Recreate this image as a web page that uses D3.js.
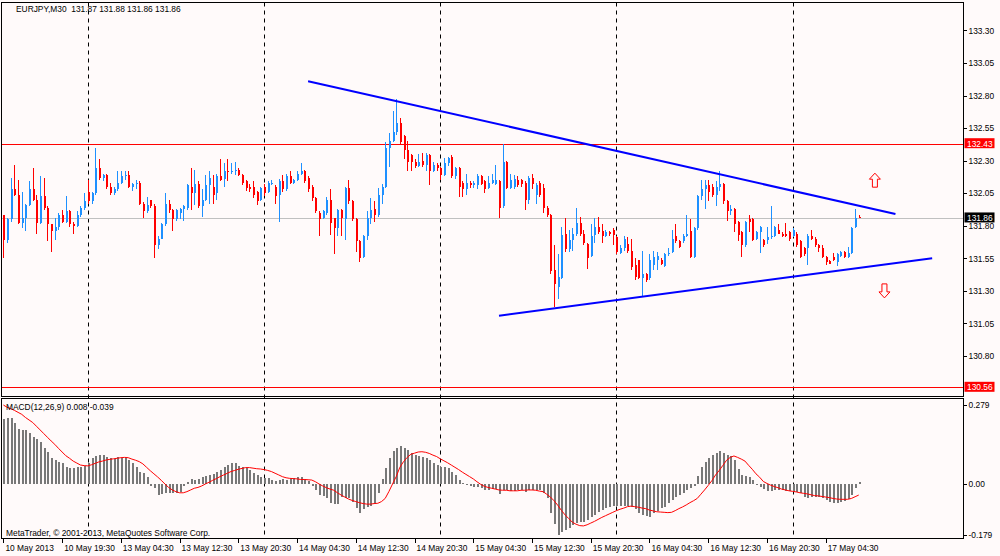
<!DOCTYPE html>
<html><head><meta charset="utf-8">
<script src="https://cdn.jsdelivr.net/npm/d3@7"></script>
<style>
html,body{margin:0;padding:0;background:#fffafa;}
svg{display:block;}
text{font-family:"Liberation Sans",Arial,sans-serif;font-size:8.4px;fill:#000;}
</style></head><body>
<svg id="c" width="1000" height="556"></svg>
<script>
// ---------- DATA ----------
const symbolTitle = "EURJPY,M30  131.87 131.88 131.86 131.86";
const macdTitle = "MACD(12,26,9) 0.008 -0.039";
const copyright = "MetaTrader, \u00A9 2001-2013, MetaQuotes Software Corp.";

const open = [
131.88,131.69,131.85,132.08,132.04,131.82,131.86,131.96,132.08,132.00,
131.82,132.03,131.94,131.81,131.76,131.79,131.88,131.83,131.91,131.81,
131.80,131.88,131.94,132.06,131.99,132.05,132.24,132.17,132.19,132.10,
132.05,132.08,132.13,132.18,132.19,132.10,132.12,132.13,131.97,131.91,
132.00,131.95,131.65,131.70,131.81,131.97,131.92,131.85,131.90,131.93,
131.94,132.10,132.05,132.12,131.95,132.00,132.11,132.10,132.05,132.18,
132.16,132.22,132.21,132.22,132.23,132.19,132.14,132.10,132.10,132.06,
132.00,132.10,132.06,132.12,132.10,132.04,132.14,132.08,132.18,132.13,
132.15,132.20,132.22,132.17,132.10,132.01,131.90,131.86,131.90,132.00,
131.86,131.78,131.92,131.85,132.09,131.99,131.85,131.68,131.56,131.72,
131.86,131.93,131.88,132.04,132.10,132.40,132.45,132.52,132.59,132.49,
132.38,132.34,132.29,132.26,132.30,132.27,132.34,132.22,132.27,132.24,
132.19,132.28,132.33,132.18,132.24,132.13,132.08,132.13,132.11,132.11,
132.18,132.14,132.09,132.13,132.12,132.14,131.95,132.29,132.09,132.10,
132.15,132.15,132.13,132.00,132.17,132.04,132.13,132.09,131.94,131.88,
131.46,131.33,131.40,131.74,131.62,131.69,131.74,131.82,131.74,131.66,
131.57,131.73,131.79,131.76,131.72,131.75,131.77,131.71,131.59,131.63,
131.66,131.61,131.50,131.54,131.40,131.43,131.40,131.50,131.54,131.54,
131.49,131.58,131.60,131.72,131.68,131.68,131.72,131.76,131.56,131.78,
132.03,132.08,132.11,132.10,132.04,132.10,132.12,131.99,131.91,131.93,
131.83,131.75,131.65,131.85,131.85,131.70,131.75,131.69,131.69,131.71,
131.72,131.77,131.74,131.74,131.75,131.72,131.74,131.68,131.63,131.63,
131.72,131.70,131.65,131.63,131.56,131.53,131.56,131.52,131.57,131.60,
131.56,131.59,131.79,131.87];
const high = [
131.88,131.86,132.17,132.27,132.15,132.06,131.97,132.14,132.24,132.04,
132.18,132.17,131.95,131.81,131.86,131.90,131.92,132.03,131.92,131.83,
131.91,131.95,132.05,132.15,132.06,132.40,132.31,132.20,132.20,132.13,
132.10,132.22,132.22,132.22,132.22,132.13,132.15,132.14,131.98,132.02,
132.00,131.97,131.72,131.82,132.05,132.00,131.93,131.93,131.94,131.96,
132.12,132.24,132.23,132.14,132.08,132.19,132.22,132.19,132.20,132.31,
132.28,132.31,132.28,132.29,132.24,132.20,132.15,132.12,132.14,132.07,
132.10,132.12,132.14,132.15,132.11,132.16,132.19,132.20,132.22,132.16,
132.22,132.28,132.23,132.18,132.11,132.02,131.91,131.92,132.02,132.08,
131.86,131.93,131.93,132.10,132.15,132.00,131.86,131.69,131.73,131.91,
132.01,131.99,132.09,132.12,132.44,132.51,132.68,132.77,132.63,132.50,
132.45,132.35,132.31,132.35,132.36,132.36,132.35,132.29,132.28,132.25,
132.32,132.33,132.34,132.25,132.25,132.14,132.20,132.14,132.14,132.20,
132.19,132.15,132.18,132.20,132.27,132.15,132.43,132.30,132.20,132.19,
132.18,132.16,132.14,132.18,132.20,132.13,132.14,132.12,131.95,131.89,
131.65,131.58,131.79,131.86,131.77,131.78,131.94,131.87,131.77,131.67,
131.81,131.86,131.87,131.81,131.77,131.76,131.78,131.72,131.65,131.72,
131.71,131.70,131.55,131.54,131.61,131.44,131.58,131.61,131.60,131.55,
131.59,131.63,131.77,131.81,131.69,131.74,131.88,131.85,131.79,132.04,
132.15,132.15,132.15,132.12,132.14,132.22,132.13,132.00,131.96,131.94,
131.84,131.76,131.84,131.88,131.86,131.76,131.80,131.70,131.79,131.95,
131.80,131.81,131.75,131.82,131.76,131.78,131.75,131.69,131.64,131.74,
131.77,131.71,131.66,131.65,131.57,131.54,131.59,131.59,131.61,131.61,
131.64,131.79,131.93,131.88];
const low = [
131.55,131.67,131.83,132.03,131.81,131.78,131.76,131.95,131.99,131.74,
131.81,131.92,131.68,131.60,131.69,131.77,131.82,131.82,131.79,131.74,
131.79,131.87,131.92,131.97,131.97,132.04,132.15,132.14,132.08,132.04,
132.04,132.07,132.12,132.15,132.09,132.07,132.08,131.96,131.86,131.90,
131.94,131.55,131.62,131.70,131.80,131.90,131.76,131.84,131.85,131.84,
131.92,131.92,131.96,131.94,131.87,131.99,131.97,131.97,132.00,132.14,
132.10,132.14,132.20,132.19,132.18,132.11,132.07,132.06,132.01,131.96,
131.99,132.03,132.05,132.11,131.97,131.83,132.06,132.07,132.12,132.12,
132.14,132.19,132.13,132.06,131.99,131.90,131.72,131.85,131.88,131.73,
131.58,131.72,131.72,131.69,131.97,131.84,131.60,131.52,131.55,131.69,
131.81,131.83,131.87,131.97,132.09,132.25,132.44,132.50,132.43,132.31,
132.22,132.22,132.24,132.25,132.25,132.22,132.11,132.21,132.22,132.15,
132.18,132.26,132.17,132.16,132.02,132.02,132.04,132.09,132.09,132.08,
132.11,132.05,132.08,132.12,132.11,131.86,131.94,132.08,132.08,132.08,
132.10,132.10,131.92,131.97,132.08,131.97,132.02,131.90,131.87,131.43,
131.18,131.24,131.39,131.60,131.60,131.61,131.72,131.72,131.65,131.47,
131.56,131.67,131.74,131.67,131.71,131.72,131.65,131.58,131.58,131.61,
131.59,131.46,131.38,131.39,131.26,131.37,131.38,131.46,131.46,131.50,
131.48,131.57,131.59,131.67,131.63,131.67,131.71,131.55,131.55,131.77,
132.00,131.93,131.99,132.02,131.95,132.07,131.97,131.84,131.88,131.75,
131.68,131.56,131.64,131.75,131.68,131.69,131.59,131.64,131.66,131.70,
131.71,131.74,131.71,131.71,131.68,131.71,131.64,131.55,131.57,131.50,
131.69,131.64,131.60,131.55,131.50,131.51,131.53,131.49,131.56,131.55,
131.55,131.58,131.78,131.86];
const close = [
131.69,131.85,132.08,132.04,131.82,131.86,131.96,132.08,132.00,131.82,
132.03,131.94,131.81,131.76,131.79,131.88,131.83,131.91,131.81,131.80,
131.88,131.94,131.99,131.99,132.05,132.24,132.17,132.19,132.10,132.05,
132.08,132.13,132.18,132.19,132.10,132.12,132.13,131.97,131.91,131.96,
131.95,131.65,131.70,131.81,131.97,131.92,131.85,131.92,131.93,131.95,
132.11,132.05,132.12,131.95,132.00,132.11,132.17,132.04,132.18,132.15,
132.22,132.21,132.22,132.23,132.19,132.13,132.09,132.08,132.04,131.99,
132.09,132.05,132.13,132.13,132.03,132.14,132.08,132.18,132.13,132.15,
132.20,132.22,132.14,132.08,132.01,131.91,131.85,131.91,132.00,131.82,
131.78,131.92,131.86,132.09,131.99,131.85,131.68,131.55,131.72,131.86,
131.92,131.88,132.04,132.10,132.40,132.45,132.52,132.59,132.44,132.38,
132.29,132.29,132.26,132.29,132.27,132.34,132.22,132.27,132.24,132.19,
132.28,132.32,132.18,132.24,132.10,132.08,132.13,132.11,132.13,132.18,
132.12,132.08,132.13,132.15,132.15,131.94,132.29,132.09,132.15,132.16,
132.11,132.12,132.00,132.17,132.12,132.11,132.04,131.94,131.88,131.45,
131.35,131.41,131.73,131.62,131.69,131.74,131.82,131.74,131.67,131.55,
131.72,131.79,131.75,131.72,131.75,131.74,131.73,131.60,131.63,131.70,
131.61,131.48,131.41,131.40,131.43,131.38,131.54,131.56,131.57,131.51,
131.58,131.59,131.70,131.68,131.64,131.72,131.74,131.56,131.78,132.03,
132.08,132.11,132.06,132.04,132.10,132.12,131.99,131.91,131.93,131.81,
131.73,131.65,131.83,131.83,131.69,131.75,131.79,131.65,131.71,131.72,
131.79,131.74,131.72,131.72,131.70,131.77,131.65,131.56,131.58,131.72,
131.70,131.65,131.63,131.56,131.52,131.51,131.54,131.58,131.60,131.56,
131.59,131.78,131.86,131.86];

const macdMain = [
0.228,0.232,0.234,0.214,0.193,0.191,0.191,0.179,0.165,0.158,
0.149,0.126,0.114,0.091,0.085,0.079,0.073,0.059,0.055,0.055,
0.059,0.059,0.064,0.073,0.091,0.099,0.102,0.101,0.097,0.091,
0.089,0.094,0.093,0.091,0.085,0.075,0.061,0.044,0.040,0.026,
-0.007,-0.015,-0.039,-0.035,-0.033,-0.031,-0.033,-0.033,-0.027,-0.007,
0.008,0.016,0.014,0.016,0.024,0.029,0.032,0.034,0.044,0.049,
0.059,0.066,0.073,0.073,0.064,0.059,0.056,0.049,0.038,0.032,
0.024,0.021,0.021,0.014,0.009,0.014,0.016,0.014,0.016,0.020,
0.026,0.024,0.018,0.012,-0.007,-0.021,-0.039,-0.042,-0.051,-0.066,
-0.071,-0.071,-0.045,-0.051,-0.051,-0.062,-0.086,-0.101,-0.089,-0.080,
-0.078,-0.071,-0.033,0.016,0.055,0.091,0.118,0.126,0.134,0.126,
0.120,0.111,0.102,0.099,0.094,0.091,0.085,0.075,0.067,0.061,
0.059,0.055,0.044,0.032,0.014,0.005,-0.004,-0.007,-0.009,-0.012,
-0.015,-0.021,-0.021,-0.019,-0.019,-0.035,-0.021,-0.021,-0.024,-0.024,
-0.021,-0.021,-0.027,-0.021,-0.021,-0.021,-0.021,-0.033,-0.051,-0.104,
-0.141,-0.179,-0.168,-0.162,-0.157,-0.145,-0.137,-0.133,-0.133,-0.127,
-0.118,-0.109,-0.098,-0.092,-0.086,-0.080,-0.078,-0.078,-0.078,-0.078,
-0.078,-0.080,-0.089,-0.101,-0.109,-0.113,-0.115,-0.101,-0.094,-0.086,
-0.080,-0.068,-0.056,-0.047,-0.039,-0.033,-0.021,-0.015,-0.007,0.028,
0.061,0.079,0.091,0.102,0.111,0.118,0.111,0.102,0.099,0.085,
0.052,0.032,0.028,0.026,0.014,-0.001,-0.012,-0.019,-0.024,-0.024,
-0.021,-0.021,-0.021,-0.024,-0.024,-0.027,-0.027,-0.033,-0.045,-0.051,
-0.047,-0.045,-0.047,-0.051,-0.056,-0.062,-0.066,-0.066,-0.062,-0.059,
-0.054,-0.039,-0.015,0.008];
const macdSignal = [
0.279,0.271,0.266,0.260,0.253,0.246,0.235,0.226,0.217,0.204,
0.191,0.178,0.165,0.152,0.140,0.126,0.113,0.100,0.091,0.081,
0.074,0.067,0.065,0.064,0.068,0.073,0.078,0.081,0.085,0.087,
0.089,0.091,0.093,0.094,0.093,0.088,0.084,0.079,0.071,0.059,
0.047,0.036,0.025,0.013,0.000,-0.012,-0.021,-0.027,-0.031,-0.031,
-0.027,-0.021,-0.015,-0.012,-0.007,0.000,0.006,0.013,0.019,0.026,
0.032,0.038,0.044,0.048,0.052,0.055,0.058,0.058,0.056,0.054,
0.053,0.051,0.048,0.044,0.038,0.032,0.026,0.022,0.020,0.019,
0.018,0.016,0.016,0.015,0.014,0.008,0.000,-0.007,-0.013,-0.018,
-0.022,-0.031,-0.039,-0.046,-0.053,-0.058,-0.062,-0.066,-0.069,-0.071,
-0.071,-0.069,-0.068,-0.062,-0.051,-0.027,0.000,0.026,0.059,0.079,
0.094,0.105,0.109,0.113,0.114,0.112,0.108,0.102,0.097,0.089,
0.082,0.075,0.067,0.059,0.051,0.042,0.034,0.026,0.018,0.008,
-0.001,-0.008,-0.012,-0.015,-0.018,-0.021,-0.022,-0.022,-0.024,-0.024,
-0.024,-0.022,-0.022,-0.021,-0.021,-0.022,-0.025,-0.027,-0.036,-0.046,
-0.059,-0.075,-0.093,-0.109,-0.122,-0.135,-0.142,-0.147,-0.148,-0.144,
-0.138,-0.132,-0.125,-0.118,-0.112,-0.106,-0.100,-0.094,-0.089,-0.085,
-0.080,-0.078,-0.080,-0.082,-0.085,-0.087,-0.092,-0.095,-0.098,-0.099,
-0.100,-0.101,-0.100,-0.094,-0.087,-0.081,-0.074,-0.066,-0.059,-0.051,
-0.036,-0.021,-0.005,0.012,0.032,0.048,0.066,0.084,0.094,0.099,
0.094,0.088,0.081,0.066,0.052,0.036,0.024,0.009,0.002,-0.004,
-0.009,-0.013,-0.018,-0.021,-0.024,-0.026,-0.028,-0.031,-0.033,-0.035,
-0.038,-0.041,-0.042,-0.044,-0.046,-0.048,-0.051,-0.053,-0.054,-0.054,
-0.054,-0.051,-0.045,-0.039];

const timeLabels = ["10 May 2013","10 May 19:30","13 May 04:30","13 May 12:30","13 May 20:30",
  "14 May 04:30","14 May 12:30","14 May 20:30","15 May 04:30","15 May 12:30","15 May 20:30",
  "16 May 04:30","16 May 12:30","16 May 20:30","17 May 04:30"];
const timeLabelBars = [0,16,32,48,64,80,96,112,128,144,160,176,192,208,224];
const daySeparatorBars = [23,71,119,167,215];
const priceTicks = [133.30,133.05,132.80,132.55,132.30,132.05,131.80,131.55,131.30,131.05,130.80];
const macdTicks = [0.279,0,-0.179];
const macdTickLabels = ["0.279","0.00","-0.179"];
const levelPrices = [132.43,130.56];
const bidPrice = 131.86;
const trendUpper = [{bar:83,price:132.91},{bar:243,price:131.89}];
const trendLower = [{bar:135,price:131.11},{bar:253,price:131.55}];
const arrowMarks = [{bar:237.4,price:132.15,dir:"up"},{bar:240,price:131.30,dir:"down"}];

// ---------- LAYOUT ----------
const W=1000,H=556;
const L=1.5, R=963.5, mainTop=2.5, mainBot=396.5, macdTop=398.5, macdBot=538.5;
const BULL="#1e90ff", BEAR="#ff0000";

const svg=d3.select("#c");
svg.append("rect").attr("width",W).attr("height",H).attr("fill","#fffafa");

const n=close.length;
const x=d3.scaleLinear().domain([0,n-1]).range([3.4,3.4+(n-1)*3.671]);
const yP=d3.scaleLinear().domain([130.56,132.43]).range([387.3,143.7]);
const yM=d3.scaleLinear().domain([-0.179,0.279]).range([534.7,405]);

svg.append("clipPath").attr("id","mainClip").append("rect")
  .attr("x",L).attr("y",mainTop).attr("width",R-L).attr("height",mainBot-mainTop);
svg.append("clipPath").attr("id","macdClip").append("rect")
  .attr("x",L).attr("y",macdTop).attr("width",R-L).attr("height",macdBot-macdTop);

// day separators (both panels)
svg.append("g").selectAll("line").data(daySeparatorBars).join("line")
  .attr("x1",d=>Math.round(x(d))+0.5).attr("x2",d=>Math.round(x(d))+0.5)
  .attr("y1",mainTop).attr("y2",macdBot)
  .attr("stroke","#000").attr("stroke-width",1).attr("stroke-dasharray","4,4");

const main=svg.append("g").attr("clip-path","url(#mainClip)");

// bid line
main.append("line").attr("x1",L).attr("x2",R)
  .attr("y1",Math.round(yP(bidPrice))+0.5).attr("y2",Math.round(yP(bidPrice))+0.5)
  .attr("stroke","#c0c0c0").attr("stroke-width",1);
// level lines
main.selectAll("line.lvl").data(levelPrices).join("line").attr("class","lvl")
  .attr("x1",L).attr("x2",R)
  .attr("y1",d=>Math.round(yP(d))+0.5).attr("y2",d=>Math.round(yP(d))+0.5)
  .attr("stroke","#ff0000").attr("stroke-width",1);

// candles
const idx=d3.range(n);
const cg=main.append("g").attr("shape-rendering","crispEdges");
cg.selectAll("line.w").data(idx).join("line").attr("class","w")
  .attr("x1",i=>Math.round(x(i))+0.5).attr("x2",i=>Math.round(x(i))+0.5)
  .attr("y1",i=>yP(high[i])).attr("y2",i=>yP(low[i]))
  .attr("stroke",i=>close[i]>=open[i]?BULL:BEAR).attr("stroke-width",1);
cg.selectAll("rect.b").data(idx).join("rect").attr("class","b")
  .attr("x",i=>Math.round(x(i))-0.5).attr("width",2)
  .attr("y",i=>yP(Math.max(open[i],close[i])))
  .attr("height",i=>Math.max(1,Math.abs(yP(open[i])-yP(close[i]))))
  .attr("fill",i=>close[i]>=open[i]?BULL:BEAR);

// trendlines
[trendUpper,trendLower].forEach(t=>{
  main.append("line")
    .attr("x1",x(t[0].bar)).attr("y1",yP(t[0].price))
    .attr("x2",x(t[1].bar)).attr("y2",yP(t[1].price))
    .attr("stroke","#0000ff").attr("stroke-width",2);
});

// arrows
const upPath="M0,-7 L5.5,-1 L2.5,-1 L2.5,7 L-2.5,7 L-2.5,-1 L-5.5,-1 Z";
main.selectAll("path.arr").data(arrowMarks).join("path").attr("class","arr")
  .attr("d",upPath)
  .attr("transform",d=>`translate(${x(d.bar)},${yP(d.price)}) rotate(${d.dir==="up"?0:180})`)
  .attr("fill","none").attr("stroke","#ff0000").attr("stroke-width",1);

// MACD panel
const mg=svg.append("g").attr("clip-path","url(#macdClip)");
mg.append("g").attr("shape-rendering","crispEdges").selectAll("rect").data(idx).join("rect")
  .attr("x",i=>Math.round(x(i))-0.5).attr("width",2)
  .attr("y",i=>Math.min(yM(0),yM(macdMain[i])))
  .attr("height",i=>Math.max(1,Math.abs(yM(macdMain[i])-yM(0))))
  .attr("fill","#787878");
mg.append("path").datum(idx)
  .attr("d",d3.line().x(i=>x(i)).y(i=>yM(macdSignal[i])))
  .attr("fill","none").attr("stroke","#ff0000").attr("stroke-width",1);

// panel borders
svg.append("rect").attr("x",L).attr("y",mainTop).attr("width",R-L).attr("height",mainBot-mainTop)
  .attr("fill","none").attr("stroke","#000").attr("shape-rendering","crispEdges");
svg.append("rect").attr("x",L).attr("y",macdTop).attr("width",R-L).attr("height",macdBot-macdTop)
  .attr("fill","none").attr("stroke","#000").attr("shape-rendering","crispEdges");

// right price axis
const pAx=svg.append("g").attr("transform",`translate(${R},0)`)
  .call(d3.axisRight(yP).tickValues(priceTicks).tickSize(3).tickPadding(2).tickFormat(d3.format(".2f")));
pAx.select(".domain").remove();
pAx.selectAll("text").attr("font-size",null).attr("font-family",null);
pAx.selectAll("line").attr("stroke","#000").attr("shape-rendering","crispEdges");

// price boxes
function priceBox(p,bg){
  const yy=yP(p);
  svg.append("rect").attr("x",964.5).attr("y",yy-5.5).attr("width",30).attr("height",10).attr("fill",bg);
  svg.append("text").attr("x",967).attr("y",yy+2.8).style("fill","#fff").text(d3.format(".2f")(p));
}
levelPrices.forEach(p=>priceBox(p,"#ff0000"));
priceBox(bidPrice,"#000");

// MACD axis
const mAx=svg.append("g").attr("transform",`translate(${R},0)`)
  .call(d3.axisRight(yM).tickValues(macdTicks).tickSize(3).tickPadding(2).tickFormat((d,i)=>macdTickLabels[i]));
mAx.select(".domain").remove();
mAx.selectAll("text").attr("font-size",null).attr("font-family",null);
mAx.selectAll("line").attr("stroke","#000").attr("shape-rendering","crispEdges");

// time axis
const tAx=svg.append("g").attr("transform",`translate(0,${macdBot})`)
  .call(d3.axisBottom(x).tickValues(timeLabelBars).tickSize(4).tickPadding(4).tickFormat((d,i)=>timeLabels[i]));
tAx.select(".domain").remove();
tAx.selectAll("text").attr("font-size",null).attr("font-family",null)
  .attr("text-anchor","start").attr("dx","1.5").attr("dy","0.55em");
tAx.selectAll("line").attr("stroke","#000").attr("shape-rendering","crispEdges");

// titles
svg.append("text").attr("x",16).attr("y",12).text(symbolTitle).attr("xml:space","preserve").style("white-space","pre");
svg.append("text").attr("x",6).attr("y",409.5).text(macdTitle);
svg.append("text").attr("x",6).attr("y",536).text(copyright);
</script>
</body></html>
